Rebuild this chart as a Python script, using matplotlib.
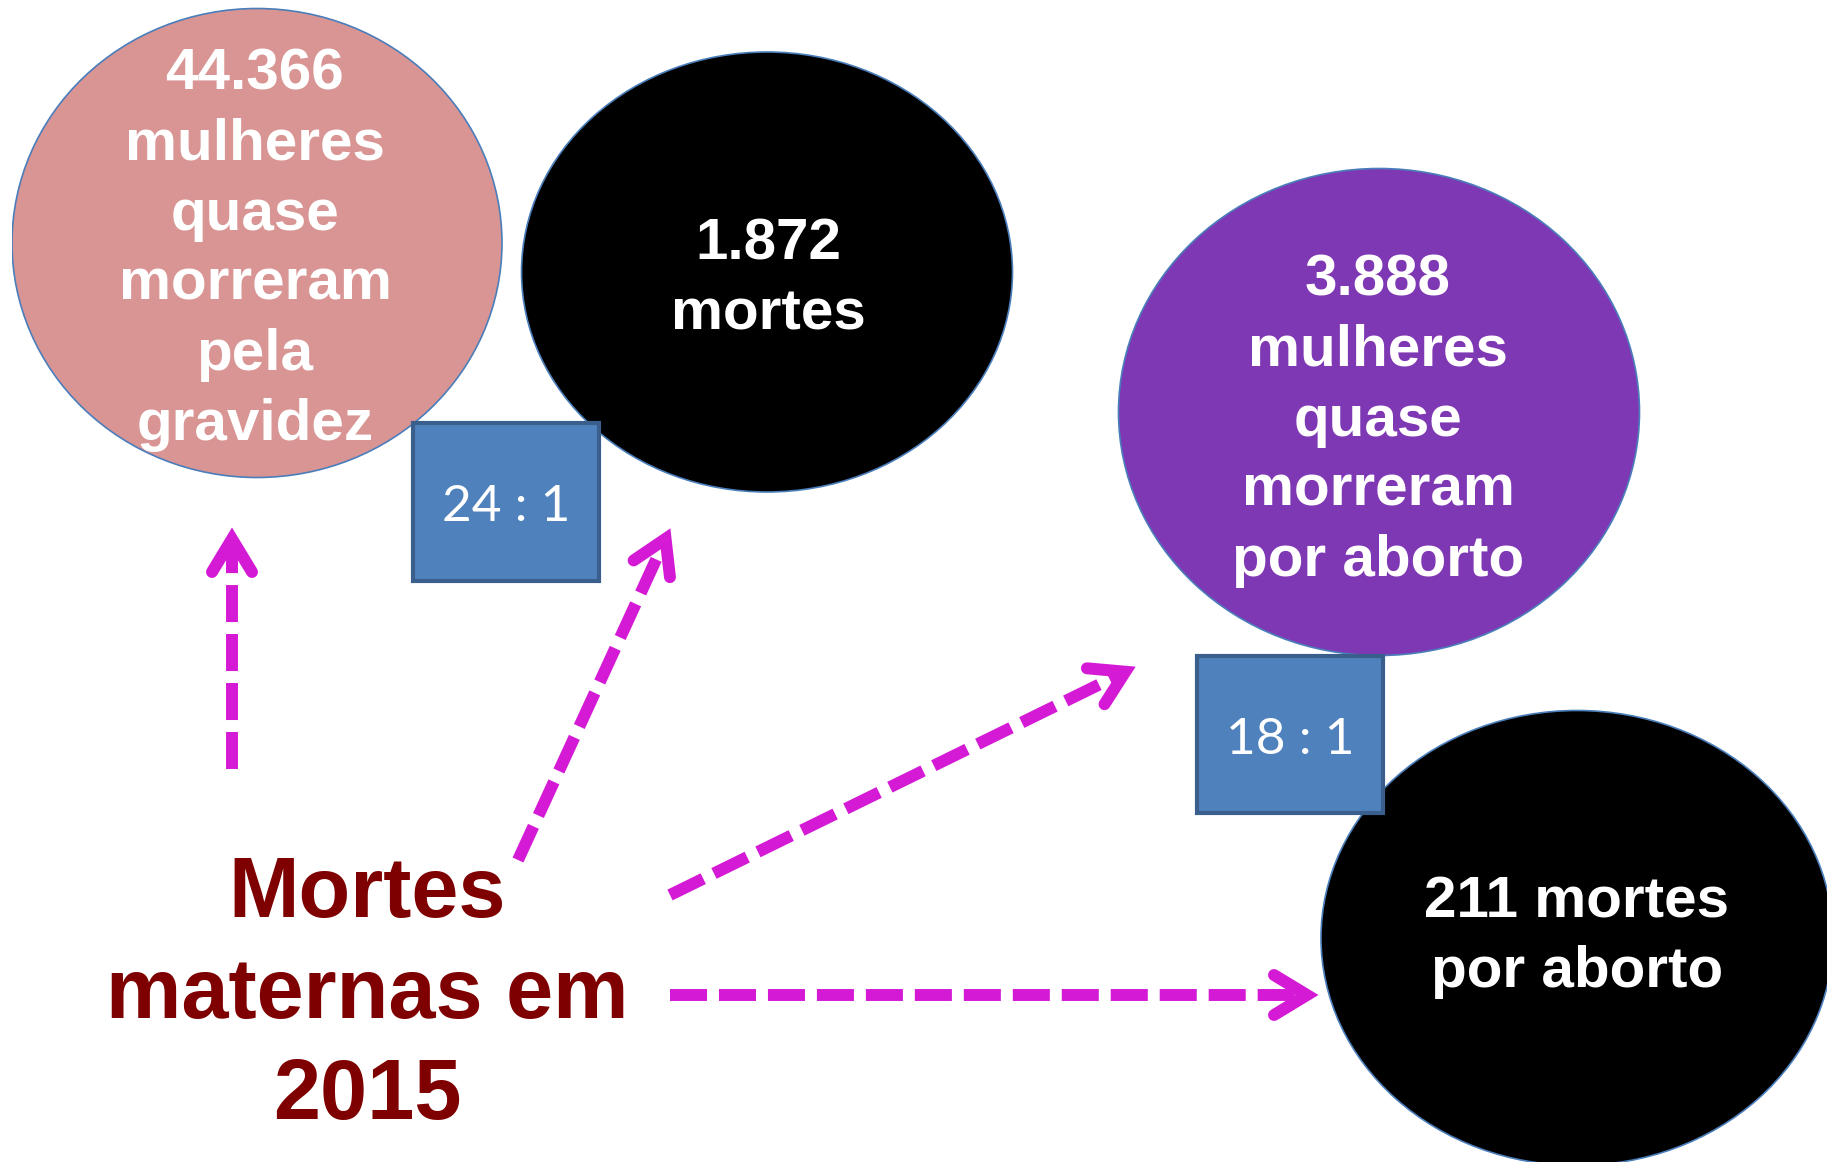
import matplotlib
matplotlib.use("Agg")
from matplotlib import pyplot as plt
from matplotlib.patches import Ellipse, Rectangle
import numpy as np

# values shown in the picture
near_miss_pregnancy = 44366
deaths_maternal = 1872
near_miss_abortion = 3888
deaths_abortion = 211
year = 2015

def br(n):
    return "{:,}".format(n).replace(",", ".")

pink_lines = [br(near_miss_pregnancy), "mulheres", "quase", "morreram", "pela", "gravidez"]
black1_lines = [br(deaths_maternal), "mortes"]
purple_lines = [br(near_miss_abortion), "mulheres", "quase", "morreram", "por aborto"]
black2_lines = [str(deaths_abortion) + " mortes", "por aborto"]
title_lines = ["Mortes", "maternas em", str(year)]
ratio1 = "%d : 1" % round(near_miss_pregnancy / deaths_maternal)
ratio2 = "%d : 1" % round(near_miss_abortion / deaths_abortion)

W, H = 1827, 1162
fig = plt.figure(figsize=(W / 100, H / 100), dpi=100)
ax = fig.add_axes([0, 0, 1, 1])
ax.set_xlim(0, W)
ax.set_ylim(H, 0)
ax.axis("off")

edge = "#4A7EBB"
bold = dict(family="Liberation Sans", weight="bold", color="white", ha="center", va="baseline")

# ellipses: center, width, height, colour
bubbles = [
    ((257, 243), 490, 469, "#D99594"),
    ((767, 272), 491, 440, "#000000"),
    ((1379, 412), 521, 487, "#7F38B3"),
    ((1577, 938), 512, 455, "#000000"),
]
for (c, w, h, col) in bubbles:
    e = Ellipse(c, w, h, facecolor=col, edgecolor=edge, lw=1.2, zorder=1)
    ax.add_patch(e)
    if col == "#D99594":
        clip = Rectangle((12, 0), W, H, transform=ax.transData)
        e.set_clip_path(clip)

def lines_at(lines, x, y0, step, **kw):
    for i, s in enumerate(lines):
        ax.text(x, y0 + i * step, s, zorder=3, **kw)

lines_at(pink_lines, 255, 90, 70, fontsize=42, **bold)
lines_at(black1_lines, 768, 259, 70, fontsize=42, **bold)
lines_at(purple_lines, 1378, 296, 70, fontsize=42, **bold)
lines_at(black2_lines, 1577, 917, 70, fontsize=42, **bold)

t = dict(bold)
t["color"] = "#7F0000"
lines_at(title_lines, 367, 917, 101, fontsize=61, **t)

# ratio boxes
for (x0, y0, x1, y1), lab in [((413, 423, 599, 581), ratio1), ((1197, 656, 1383, 813), ratio2)]:
    ax.add_patch(Rectangle((x0, y0), x1 - x0, y1 - y0, facecolor="#4F81BD",
                           edgecolor="#3A5F8C", lw=3.0, zorder=2))
    ax.text((x0 + x1) / 2, (y0 + y1) / 2 + 5, lab, family="Lato", fontsize=37,
            color="white", ha="center", va="center", zorder=3)

# dashed arrows: start -> tip
mag = "#D41AD4"
lw = 8.6
arrows = [((232, 769), (232, 526)),
          ((518, 860), (671, 527)),
          ((670, 895), (1137, 666)),
          ((670, 995), (1320, 995))]
for (sx, sy), (tx, ty) in arrows:
    d = np.array([tx - sx, ty - sy], float)
    d /= np.hypot(*d)
    n = np.array([-d[1], d[0]])
    tip = np.array([tx, ty], float)
    apex = tip - d * 13
    a1 = apex - d * 33 + n * 20
    a2 = apex - d * 33 - n * 20
    ax.plot([sx, apex[0]], [sy, apex[1]], color=mag, lw=lw,
            linestyle=(0, (3.1, 1.0)), solid_capstyle="butt",
            dash_capstyle="butt", zorder=4)
    ax.plot([a1[0], apex[0], a2[0]], [a1[1], apex[1], a2[1]], color=mag, lw=lw,
            solid_capstyle="round", solid_joinstyle="miter", zorder=4)

fig.savefig("out.png", dpi=100, facecolor="white")
